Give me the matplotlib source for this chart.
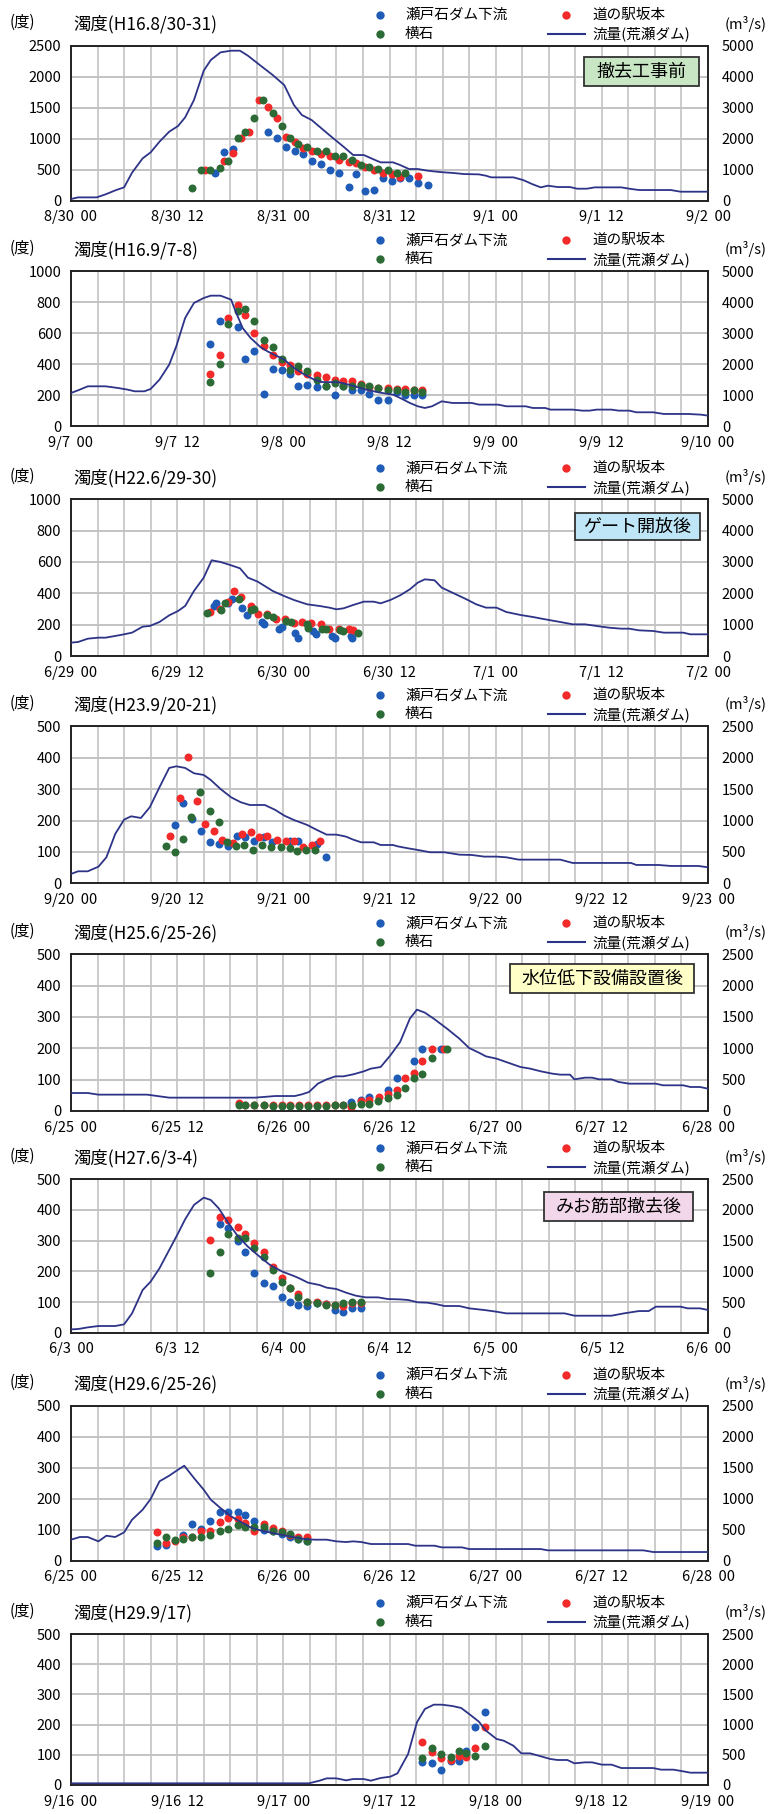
import matplotlib
matplotlib.use("Agg")
import matplotlib.pyplot as plt
from matplotlib.patches import Rectangle

plt.rcParams['font.family'] = ['Noto Sans CJK JP', 'DejaVu Sans']

W, H = 769, 1814

# ---------------- data (hours from the first day's 00:00) ----------------
# Panel 1 : H16.8/30-31
p1_title = "濁度(H16.8/30-31)"
p1_xlabels = ["8/30  00", "8/30  12", "8/31  00", "8/31  12", "9/1  00", "9/1  12", "9/2  00"]
p1_flow_t = [0, 0.8, 2.9, 3.9, 5.1, 6, 6.9, 8.1, 9, 10, 11.1, 12.1, 12.9, 13.9, 15, 15.8, 16.9, 18.1, 19.1, 20,
             21.1, 22.8, 24.1, 25.2, 26.1, 27.2, 29.2, 30.8, 31.9, 33.1, 34.2, 35, 36.4, 37.2, 38.2, 39.2, 40.3,
             41.7, 43.3, 44.4, 46.1, 46.9, 47.5, 50, 51.1, 52.2, 53.1, 53.9, 55, 56.4, 57.2, 58.3, 59.2, 62.2,
             63.1, 64.2, 67.8, 68.9, 72]
p1_flow_v = [54, 107, 107, 204, 344, 430, 903, 1366, 1559, 1903, 2226, 2409, 2688, 3247, 4194, 4538, 4785, 4839,
             4839, 4677, 4430, 4054, 3731, 3086, 2763, 2602, 2118, 1742, 1473, 1473, 1333, 1237, 1237, 1151, 1022,
             1022, 968, 925, 892, 860, 849, 806, 753, 753, 667, 527, 430, 484, 441, 441, 387, 387, 430, 430, 387,
             344, 344, 290, 290]
p1_blue_t = [16.3, 17.3, 18.3, 22.3, 23.3, 24.3, 25.3, 26.2, 27.2, 28.3, 29.3, 30.3, 31.4, 32.2, 33.2, 34.3, 35.3,
             36.3, 37.2, 38.2, 39.2, 40.3]
p1_blue_v = [441, 780, 833, 1102, 1005, 860, 806, 753, 640, 591, 495, 441, 226, 425, 156, 172, 371, 323, 360, 360,
             280, 253]
p1_red_t = [15.2, 17.3, 18.3, 19.2, 20.1, 21.2, 22.3, 23.3, 24.3, 25.3, 26.2, 27.2, 28.3, 29.3, 30.3, 31.4, 32.2,
            33.2, 34.3, 35.3, 36.3, 37.2, 39.2]
p1_red_v = [495, 645, 763, 1005, 1102, 1624, 1516, 1328, 1022, 941, 844, 806, 753, 726, 656, 629, 602, 548, 495,
            441, 430, 387, 400]
p1_green_t = [13.7, 14.7, 15.7, 16.8, 17.8, 18.9, 19.7, 20.7, 21.7, 22.8, 23.8, 24.8, 25.7, 26.7, 27.8, 28.8, 29.8,
              30.8, 31.8, 32.8, 33.7, 34.7, 35.8, 36.8, 37.8]
p1_green_v = [199, 495, 495, 521, 640, 1005, 1102, 1328, 1624, 1419, 1204, 1016, 914, 866, 806, 806, 726, 726, 656,
              575, 548, 505, 495, 452, 452]

# Panel 2 : H16.9/7-8
p2_title = "濁度(H16.9/7-8)"
p2_xlabels = ["9/7  00", "9/7  12", "9/8  00", "9/8  12", "9/9  00", "9/9  12", "9/10  00"]
p2_flow_t = [0, 0.8, 1.9, 3.9, 5.3, 6.4, 7.2, 8.3, 9, 10, 11.1, 11.9, 12.9, 13.9, 15, 15.8, 16.9, 18.1, 18.6, 19.4,
             20.3, 21.4, 22.2, 24.1, 25.2, 26.4, 27.5, 28.3, 30.3, 31.4, 33.1, 34.7, 36.4, 37.2, 38.3, 39.2, 40,
             40.8, 41.9, 43.1, 45.3, 46.1, 48.3, 49.2, 51.4, 52.2, 53.6, 54.2, 56.7, 57.8, 58.6, 59.4, 61.1, 61.9,
             63.1, 63.9, 65.8, 67, 69.7, 71.2, 72]
p2_flow_v = [1075, 1161, 1290, 1290, 1236, 1183, 1129, 1129, 1204, 1505, 1989, 2580, 3494, 3978, 4139, 4214, 4214,
             4085, 3709, 3171, 2849, 2559, 2419, 2150, 1881, 1666, 1505, 1430, 1419, 1344, 1204, 1097, 1021, 914,
             753, 645, 591, 645, 806, 753, 753, 699, 699, 645, 645, 591, 591, 538, 538, 505, 505, 538, 538, 505,
             505, 452, 452, 398, 398, 376, 344]
p2_blue_t = [15.7, 16.8, 18.9, 19.7, 20.7, 21.8, 22.8, 23.8, 24.8, 25.7, 26.7, 27.8, 28.8, 29.8, 30.8, 31.8, 32.8,
             33.7, 34.7, 35.8, 36.8, 37.8, 38.8, 39.7]
p2_blue_v = [531, 678, 639, 434, 484, 209, 372, 366, 338, 258, 269, 252, 258, 200, 258, 237, 237, 209, 172, 172,
             222, 204, 200, 200]
p2_red_t = [15.7, 16.8, 17.8, 18.9, 19.7, 20.7, 21.8, 22.8, 23.8, 24.8, 25.7, 26.7, 27.8, 28.8, 29.8, 30.8, 31.8,
            32.8, 33.7, 34.7, 35.8, 36.8, 37.8, 38.8, 39.7]
p2_red_v = [338, 462, 699, 785, 716, 602, 516, 462, 413, 398, 359, 340, 333, 316, 301, 290, 290, 270, 255, 250,
            245, 243, 241, 237, 232]
p2_green_t = [15.7, 16.8, 17.8, 18.9, 19.7, 20.7, 21.8, 22.8, 23.8, 24.8, 25.7, 26.7, 27.8, 28.8, 29.8, 30.8, 31.8,
              32.8, 33.7, 34.7, 35.8, 36.8, 37.8, 38.8, 39.7]
p2_green_v = [286, 402, 660, 746, 757, 678, 559, 512, 437, 366, 387, 355, 301, 258, 280, 258, 258, 269, 258, 247,
              237, 237, 219, 237, 219]

# Panel 3 : H22.6/29-30
p3_title = "濁度(H22.6/29-30)"
p3_xlabels = ["6/29  00", "6/29  12", "6/30  00", "6/30  12", "7/1  00", "7/1  12", "7/2  00"]
p3_flow_t = [0, 0.8, 1.9, 3.1, 3.9, 5.6, 6.9, 8.1, 8.9, 10, 11.1, 12.1, 12.9, 13.9, 15, 15.9, 16.9, 18.1, 19.1, 20,
             21.1, 22.8, 23.9, 25.2, 26.7, 28.1, 29.2, 30, 30.8, 31.9, 33.1, 34.2, 35, 36.1, 37.2, 38.3, 39.2, 40,
             41.1, 41.9, 43.1, 44.7, 45.8, 46.9, 48.1, 49.2, 50.8, 52.2, 53.6, 55.3, 56.7, 58.1, 59.4, 60.8, 62.2,
             63.1, 64.2, 65.8, 67, 69.2, 70, 72]
p3_flow_v = [426, 447, 553, 585, 585, 670, 745, 936, 958, 1085, 1298, 1436, 1596, 2075, 2500, 3054, 3000, 2894,
             2798, 2500, 2373, 2075, 1936, 1787, 1649, 1596, 1543, 1490, 1521, 1628, 1734, 1734, 1681, 1787, 1936,
             2128, 2341, 2447, 2415, 2181, 2022, 1809, 1649, 1543, 1543, 1404, 1309, 1245, 1170, 1085, 1011, 1011,
             958, 904, 872, 872, 819, 798, 745, 745, 692, 692]
p3_blue_t = [16.2, 16.4, 17.8, 18.2, 19.3, 19.9, 21.6, 21.8, 23.5, 23.8, 25.3, 25.7, 27.3, 27.7, 29.5, 29.8, 31.7,
             31.8]
p3_blue_v = [319, 340, 340, 362, 309, 260, 217, 206, 170, 187, 149, 117, 160, 138, 128, 117, 128, 117]
p3_red_t = [15.7, 16.8, 17.7, 18.4, 19.2, 20.3, 21.1, 22.1, 23.2, 24.2, 25.2, 26.1, 27.1, 28.3, 29.2, 30.3, 31.4,
            31.9]
p3_red_v = [281, 302, 345, 415, 379, 319, 270, 266, 238, 234, 213, 217, 213, 202, 174, 174, 174, 166]
p3_green_t = [15.4, 16.9, 17.4, 19, 20.3, 20.7, 22.2, 22.8, 24.3, 24.9, 26.7, 26.8, 28.4, 28.8, 30.4, 30.8, 32.4]
p3_green_v = [272, 294, 340, 366, 294, 298, 260, 251, 223, 217, 202, 181, 174, 174, 166, 160, 149]

# Panel 4 : H23.9/20-21
p4_title = "濁度(H23.9/20-21)"
p4_xlabels = ["9/20  00", "9/20  12", "9/21  00", "9/21  12", "9/22  00", "9/22  12", "9/23  00"]
p4_flow_t = [0, 0.8, 1.9, 3.1, 4, 5, 6, 6.8, 7.9, 8.9, 10, 11.1, 11.9, 12.9, 13.9, 15, 15.8, 16.9, 18.1, 19.2,
             20.2, 21.9, 23.1, 24.1, 25.2, 26.7, 27.8, 28.9, 30, 31.1, 31.9, 32.8, 34.2, 35, 36.4, 36.9, 38.1,
             39.2, 40.6, 42.2, 43.9, 45.3, 46.7, 48.1, 49.2, 50.6, 52.5, 55.3, 56.7, 60.3, 63.3, 63.9, 66.4, 67.8,
             70.9, 72]
p4_flow_v = [149, 191, 191, 265, 414, 786, 1014, 1067, 1040, 1210, 1529, 1837, 1863, 1837, 1752, 1725, 1645, 1502,
             1369, 1290, 1247, 1247, 1168, 1078, 1008, 929, 849, 775, 775, 743, 695, 653, 653, 610, 610, 589, 557,
             531, 494, 494, 456, 451, 425, 425, 414, 377, 377, 377, 324, 324, 324, 292, 292, 276, 276, 255]
p4_blue_t = [11.7, 12.7, 13.7, 14.7, 15.7, 16.7, 17.7, 18.8, 19.7, 20.7, 21.8, 22.7, 24.7, 25.7, 27.8, 28.8]
p4_blue_v = [186, 256, 205, 166, 131, 125, 120, 152, 147, 134, 147, 130, 136, 136, 125, 85]
p4_red_t = [11.2, 12.3, 13.2, 14.2, 15.2, 16.2, 17.1, 18.3, 19.3, 20.3, 21.3, 22.2, 23.3, 24.3, 25.2, 26.2, 27.2,
            28.2]
p4_red_v = [152, 272, 401, 261, 189, 166, 138, 128, 157, 162, 147, 152, 138, 134, 134, 115, 122, 134]
p4_green_t = [10.7, 11.7, 12.7, 13.6, 14.6, 15.7, 16.7, 17.6, 18.7, 19.6, 20.6, 21.6, 22.6, 23.7, 24.7, 25.6, 26.6,
              27.6]
p4_green_v = [118, 99, 141, 210, 290, 229, 196, 131, 118, 122, 107, 122, 117, 117, 113, 102, 107, 107]

# Panel 5 : H25.6/25-26
p5_title = "濁度(H25.6/25-26)"
p5_xlabels = ["6/25  00", "6/25  12", "6/26  00", "6/26  12", "6/27  00", "6/27  12", "6/28  00"]
p5_flow_t = [0, 1.9, 3.1, 8.6, 11.1, 20.8, 23.1, 25.3, 26.1, 26.9, 27.9, 28.9, 29.9, 30.8, 31.9, 33.1, 33.9, 35,
             36.1, 37.2, 38.3, 39.1, 40, 41.1, 42.5, 43.9, 45, 46.1, 46.9, 48.1, 49.4, 50.8, 51.9, 53.1, 54.4, 55.3,
             56.4, 56.9, 58.1, 58.9, 59.7, 61.1, 61.9, 63.1, 66.1, 66.9, 69.2, 70, 71.1, 72]
p5_flow_v = [287, 287, 261, 261, 213, 213, 239, 239, 266, 303, 436, 505, 553, 553, 585, 633, 676, 702, 888, 1101,
             1473, 1617, 1569, 1463, 1314, 1154, 1005, 931, 872, 835, 771, 702, 676, 633, 596, 580, 580, 505, 532,
             532, 505, 505, 463, 436, 436, 410, 410, 383, 383, 356]
p5_blue_t = [31.7, 32.8, 33.7, 35.8, 36.8, 38.8, 39.7, 41.8]
p5_blue_v = [29, 36, 45, 68, 106, 159, 197, 197]
p5_red_t = [19, 19.7, 20.7, 21.8, 22.8, 23.8, 24.8, 25.8, 26.8, 27.8, 28.8, 29.8, 30.8, 31.7, 32.8, 33.7, 34.8,
            35.8, 36.8, 37.8, 38.8, 39.7, 40.8, 42.2]
p5_red_v = [26, 20, 20, 20, 20, 20, 20, 20, 20, 20, 20, 20, 20, 13, 32, 36, 45, 53, 68, 106, 121, 159, 197, 197]
p5_green_t = [19, 19.7, 20.7, 21.8, 22.8, 23.8, 24.8, 25.8, 26.8, 27.8, 28.8, 29.8, 30.8, 31.8, 32.8, 33.7, 34.7,
              35.8, 36.8, 37.8, 38.8, 39.7, 40.8, 42.5]
p5_green_v = [18, 18, 18, 18, 15, 15, 15, 15, 15, 15, 15, 18, 18, 20, 23, 23, 31, 43, 52, 73, 105, 119, 169, 197]

# Panel 6 : H27.6/3-4
p6_title = "濁度(H27.6/3-4)"
p6_xlabels = ["6/3  00", "6/3  12", "6/4  00", "6/4  12", "6/5  00", "6/5  12", "6/6  00"]
p6_flow_t = [0, 0.8, 1.9, 3.1, 5, 6, 6.9, 8.1, 9, 10, 11.1, 12.1, 12.9, 13.9, 15, 15.8, 16.7, 17.8, 18.9, 20, 21.1,
             22.5, 23.9, 25.2, 25.8, 26.8, 28.1, 28.9, 30, 31.1, 32.2, 33.3, 34.7, 35.8, 37.2, 38.1, 39.2, 40.3,
             41.4, 42.2, 43.9, 45, 46.7, 48.1, 49.2, 50.8, 55.8, 56.9, 61.1, 62.5, 64.2, 65.3, 66.1, 68.9, 69.7,
             71.1, 72]
p6_flow_v = [54, 60, 87, 109, 109, 136, 315, 696, 832, 1049, 1348, 1620, 1848, 2082, 2201, 2163, 2027, 1783, 1565,
             1402, 1266, 1103, 995, 924, 886, 815, 777, 734, 712, 652, 603, 576, 576, 549, 543, 533, 495, 489, 462,
             435, 435, 397, 370, 342, 315, 315, 315, 277, 277, 315, 353, 353, 424, 424, 397, 397, 370]
p6_blue_t = [16.8, 17.8, 18.9, 19.7, 20.7, 21.8, 22.8, 23.8, 24.8, 25.7, 26.7, 27.8, 28.8, 29.8, 30.8, 31.8, 32.8]
p6_blue_v = [354, 340, 300, 262, 193, 163, 153, 115, 99, 90, 88, 96, 93, 74, 68, 79, 79]
p6_red_t = [15.7, 16.8, 17.8, 18.9, 19.7, 20.7, 21.8, 22.8, 23.8, 24.8, 25.7, 26.7, 27.8, 28.8, 29.8, 30.8, 31.8,
            32.8]
p6_red_v = [302, 378, 367, 343, 322, 293, 264, 215, 177, 147, 126, 99, 101, 93, 90, 88, 96, 96]
p6_green_t = [15.7, 16.8, 17.8, 18.9, 19.7, 20.7, 21.8, 22.8, 23.8, 24.8, 25.7, 26.7, 27.8, 28.8, 29.8, 30.8, 31.8,
              32.8]
p6_green_v = [196, 264, 322, 308, 308, 275, 246, 204, 166, 147, 117, 101, 96, 90, 90, 96, 99, 101]

# Panel 7 : H29.6/25-26
p7_title = "濁度(H29.6/25-26)"
p7_xlabels = ["6/25  00", "6/25  12", "6/26  00", "6/26  12", "6/27  00", "6/27  12", "6/28  00"]
p7_flow_t = [0, 1, 1.9, 3.1, 4, 5, 6, 6.9, 8.1, 9, 10, 11.1, 12.1, 12.8, 13.9, 15, 15.8, 16.9, 18.1, 19.2, 20.3,
             21.4, 22.8, 24.1, 25.3, 26.4, 27.5, 28.9, 30, 31.1, 31.9, 32.8, 33.9, 38.1, 38.9, 41.1, 41.9, 44.2, 45,
             53.1, 53.9, 64.7, 65.8, 72]
p7_flow_v = [339, 382, 382, 312, 403, 382, 457, 661, 823, 995, 1280, 1371, 1468, 1532, 1333, 1145, 984, 849, 715,
             624, 538, 489, 446, 409, 376, 349, 339, 339, 312, 301, 312, 301, 269, 269, 242, 242, 215, 215, 188,
             188, 167, 167, 140, 140]
p7_blue_t = [9.7, 10.7, 12.7, 13.7, 14.7, 15.7, 16.8, 17.8, 18.9, 19.7, 20.7, 21.8, 22.8, 23.8, 24.8, 25.7, 26.7]
p7_blue_v = [46, 52, 84, 119, 103, 127, 156, 156, 156, 148, 127, 100, 95, 87, 75, 70, 62]
p7_red_t = [9.7, 10.7, 11.7, 12.7, 13.7, 14.7, 15.7, 16.8, 17.8, 18.9, 19.7, 20.7, 21.8, 22.8, 23.8, 24.8, 25.7,
            26.7]
p7_red_v = [92, 57, 62, 75, 75, 95, 97, 125, 138, 134, 122, 95, 118, 105, 95, 84, 78, 75]
p7_green_t = [9.7, 10.7, 11.7, 12.7, 13.7, 14.7, 15.7, 16.8, 17.8, 18.9, 19.7, 20.7, 21.8, 22.8, 23.8, 24.8, 25.7,
              26.7]
p7_green_v = [57, 78, 68, 70, 76, 78, 84, 97, 102, 116, 108, 108, 108, 97, 92, 87, 70, 65]

# Panel 8 : H29.9/17
p8_title = "濁度(H29.9/17)"
p8_xlabels = ["9/16  00", "9/16  12", "9/17  00", "9/17  12", "9/18  00", "9/18  12", "9/19  00"]
p8_flow_t = [0, 26.9, 28.1, 28.9, 30, 31.1, 31.9, 33.1, 33.9, 35, 36.1, 36.9, 38.1, 39.1, 40, 41, 41.9, 43.1, 44.1,
             45, 46.1, 46.9, 48.1, 48.9, 50, 50.9, 51.9, 53.1, 54.2, 55, 56.1, 56.9, 58.1, 58.9, 60, 61.1, 62.2,
             65.8, 66.7, 68.1, 69.2, 70, 72]
p8_flow_v = [28, 28, 72, 110, 110, 77, 99, 99, 72, 116, 138, 193, 513, 1038, 1258, 1330, 1330, 1308, 1275, 1176,
             1049, 900, 762, 734, 651, 524, 524, 475, 430, 414, 414, 359, 375, 375, 337, 337, 281, 281, 254, 254,
             226, 204, 204]
p8_blue_t = [39.7, 40.8, 41.8, 42.9, 43.9, 44.7, 45.7, 46.8]
p8_blue_v = [75, 72, 50, 81, 81, 114, 191, 243]
p8_red_t = [39.7, 40.8, 41.8, 42.9, 43.9, 44.7, 45.7, 46.8]
p8_red_v = [141, 108, 89, 83, 95, 94, 121, 191]
p8_green_t = [39.7, 40.8, 41.8, 42.9, 43.9, 44.7, 45.7, 46.8]
p8_green_v = [88, 121, 103, 94, 111, 105, 95, 130]

# axis ranges: (turbidity max, turbidity step, flow max, flow step)
p_ranges = [(2500, 500, 5000, 1000), (1000, 200, 5000, 1000), (1000, 200, 5000, 1000),
            (500, 100, 2500, 500), (500, 100, 2500, 500), (500, 100, 2500, 500),
            (500, 100, 2500, 500), (500, 100, 2500, 500)]

legend_labels = ["瀬戸石ダム下流", "道の駅坂本", "横石", "流量(荒瀬ダム)"]

# stage badges: (panel index, text, face colour, box in figure pixels x0, y0, x1, y1)
badges = [(0, "撤去工事前", "#c8e6c4", 584, 57, 699, 86),
          (2, "ゲート開放後", "#bfe6f7", 575, 513, 700, 540),
          (4, "水位低下設備設置後", "#ffffc8", 510, 964, 694, 993),
          (5, "みお筋部撤去後", "#f2d6ea", 544, 1192, 693, 1221)]

# ---------------- styling ----------------
C_BLUE = "#1f5cb8"
C_RED = "#f42a2a"
C_GREEN = "#2c6b35"
C_LINE = "#2d3487"
C_GRID = "#c3c3c3"

panels = [
    (p1_title, p1_xlabels, p1_flow_t, p1_flow_v, p1_blue_t, p1_blue_v, p1_red_t, p1_red_v, p1_green_t, p1_green_v),
    (p2_title, p2_xlabels, p2_flow_t, p2_flow_v, p2_blue_t, p2_blue_v, p2_red_t, p2_red_v, p2_green_t, p2_green_v),
    (p3_title, p3_xlabels, p3_flow_t, p3_flow_v, p3_blue_t, p3_blue_v, p3_red_t, p3_red_v, p3_green_t, p3_green_v),
    (p4_title, p4_xlabels, p4_flow_t, p4_flow_v, p4_blue_t, p4_blue_v, p4_red_t, p4_red_v, p4_green_t, p4_green_v),
    (p5_title, p5_xlabels, p5_flow_t, p5_flow_v, p5_blue_t, p5_blue_v, p5_red_t, p5_red_v, p5_green_t, p5_green_v),
    (p6_title, p6_xlabels, p6_flow_t, p6_flow_v, p6_blue_t, p6_blue_v, p6_red_t, p6_red_v, p6_green_t, p6_green_v),
    (p7_title, p7_xlabels, p7_flow_t, p7_flow_v, p7_blue_t, p7_blue_v, p7_red_t, p7_red_v, p7_green_t, p7_green_v),
    (p8_title, p8_xlabels, p8_flow_t, p8_flow_v, p8_blue_t, p8_blue_v, p8_red_t, p8_red_v, p8_green_t, p8_green_v),
]

# plot-area rectangles in figure pixels
AX_L, AX_R = 71, 708
tops = [45.7, 271.3, 499.3, 726.3, 954.3, 1179.3, 1405.7, 1634]
bottoms = [200.7, 426.3, 656, 883.3, 1111, 1332.7, 1560.7, 1785]

fig = plt.figure(figsize=(W / 100, H / 100), dpi=100)

MS = 33  # scatter marker area

for i, (title, xlabels, ft, fv, bt, bv, rt, rv, gt, gv) in enumerate(panels):
    ymax, ystep, fmax, fstep = p_ranges[i]
    top, bot = tops[i], bottoms[i]
    ax = fig.add_axes([AX_L / W, 1 - bot / H, (AX_R - AX_L) / W, (bot - top) / H])
    ax.scatter(bt, bv, s=MS, color=C_BLUE, linewidths=0, zorder=3)
    ax.scatter(rt, rv, s=MS, color=C_RED, linewidths=0, zorder=4)
    ax.scatter(gt, gv, s=MS, color=C_GREEN, linewidths=0, zorder=5)
    ax.set_xlim(0, 72)
    ax.set_ylim(0, ymax)
    ax.set_xticks(range(0, 73, 12))
    ax.set_xticklabels(xlabels, fontsize=10.5)
    ax.set_xticks(range(0, 73, 3), minor=True)
    ax.set_yticks(range(0, ymax + 1, ystep))
    ax.tick_params(axis='both', which='both', length=0)
    ax.tick_params(axis='y', labelsize=10.5, pad=7)
    ax.tick_params(axis='x', pad=7)
    ax.grid(True, which='both', axis='x', color=C_GRID, lw=1.2, zorder=0)
    ax.grid(True, which='major', axis='y', color=C_GRID, lw=1.4, zorder=0)
    ax.set_axisbelow(True)
    for sp in ax.spines.values():
        sp.set_color("#222222")
        sp.set_linewidth(1.2)

    ax2 = ax.twinx()
    ax2.plot(ft, fv, color=C_LINE, lw=1.3, zorder=6)
    ax2.set_ylim(0, fmax)
    ax2.set_yticks(range(0, fmax + 1, fstep))
    ax2.tick_params(axis='y', length=0, labelsize=10.5, pad=10)
    for sp in ax2.spines.values():
        sp.set_color("#222222")
        sp.set_linewidth(1.2)

# overlay in figure pixel coordinates for headers and badges
ov = fig.add_axes([0, 0, 1, 1], zorder=20)
ov.set_xlim(0, W)
ov.set_ylim(H, 0)
ov.axis('off')
ov.patch.set_alpha(0)

for i, p in enumerate(panels):
    top = tops[i]
    ov.text(22, top - 23, "(度)", fontsize=11, ha='center', va='center')
    ov.text(73, top - 21, p[0], fontsize=12.5, ha='left', va='center')
    ov.text(767, top - 22, "(m³/s)", fontsize=10.5, ha='right', va='center')
    y1, y2 = top - 31, top - 12
    ov.plot([380], [y1], 'o', ms=6, color=C_BLUE, mec='none')
    ov.text(405, y1, legend_labels[0], fontsize=10.5, ha='left', va='center')
    ov.plot([566], [y1], 'o', ms=6, color=C_RED, mec='none')
    ov.text(592, y1, legend_labels[1], fontsize=10.5, ha='left', va='center')
    ov.plot([380], [y2], 'o', ms=6, color=C_GREEN, mec='none')
    ov.text(405, y2, legend_labels[2], fontsize=10.5, ha='left', va='center')
    ov.plot([548, 585], [y2, y2], color=C_LINE, lw=1.5)
    ov.text(592, y2, legend_labels[3], fontsize=10.5, ha='left', va='center')

for idx, text, fc, x0, y0, x1, y1 in badges:
    ov.add_patch(Rectangle((x0, y0), x1 - x0, y1 - y0, facecolor=fc, edgecolor="#333333", lw=1.3))
    ov.text((x0 + x1) / 2, (y0 + y1) / 2, text, fontsize=13, ha='center', va='center')

fig.savefig("out.png", dpi=100)
